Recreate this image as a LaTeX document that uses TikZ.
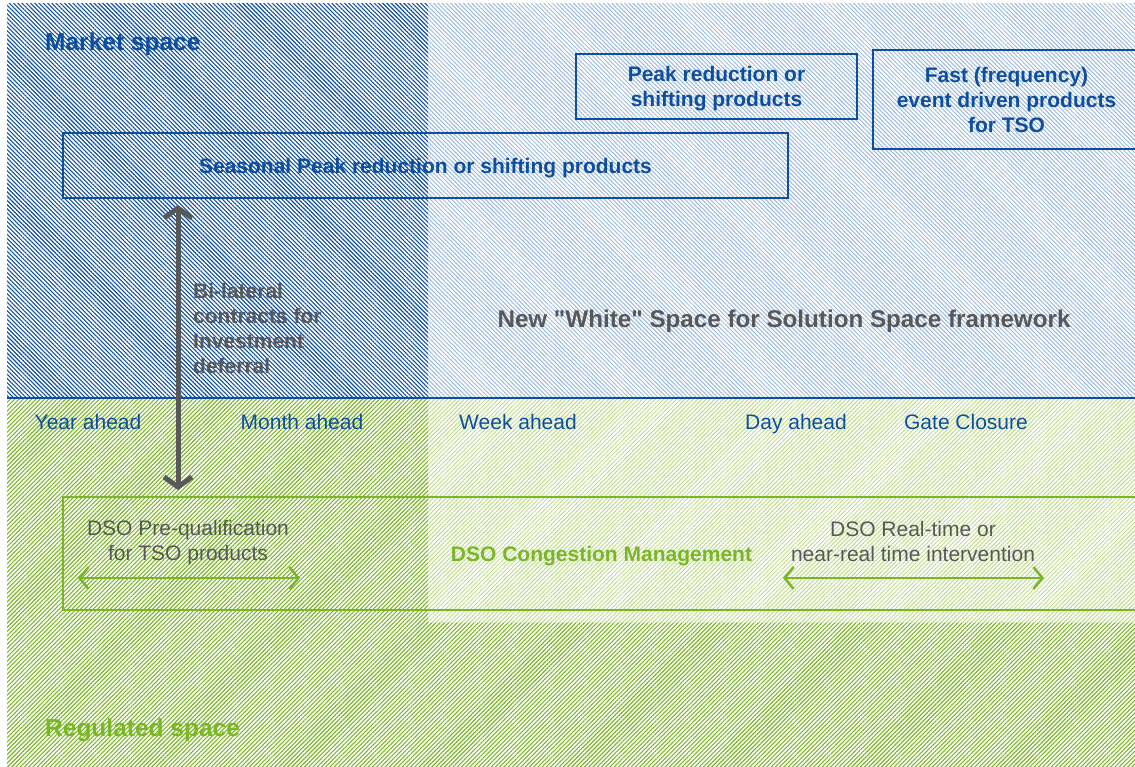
\documentclass[tikz,border=0pt]{standalone}
\usepackage{fontspec}
\setmainfont{Liberation Sans}
\usetikzlibrary{patterns.meta,arrows.meta}
\definecolor{mblue}{RGB}{14,78,158}
\definecolor{lblue}{RGB}{156,184,222}
\definecolor{mgreen}{RGB}{122,182,38}
\definecolor{lgreen}{RGB}{190,220,140}
\definecolor{mgray}{RGB}{88,88,88}

\begin{document}
\begin{tikzpicture}[x=1pt,y=-1pt,
  bluebox/.style={draw=mblue, line width=1.3pt, inner sep=0pt, text depth=0pt, text=mblue, align=center, font=\bfseries\fontsize{21}{25}\selectfont},
  greenbox/.style={draw=mgreen, line width=1.3pt, inner sep=0pt, text=mgreen, font=\bfseries\fontsize{21}{25}\selectfont},
  tline/.style={text=mblue, inner sep=0pt, text height=15pt, text depth=0pt, font=\fontsize{21}{25}\selectfont},
  graytext/.style={text=mgray, inner sep=0pt, align=center, font=\fontsize{21}{25}\selectfont},
  spacelabel/.style={inner sep=0pt, anchor=west, text height=17.5pt, text depth=0pt, font=\bfseries\fontsize{24.5}{28}\selectfont},
  greenarrow/.style={mgreen, line width=2.5pt, {Straight Barb[length=9pt,width=22pt]}-{Straight Barb[length=9pt,width=22pt]}}]
\useasboundingbox (0,0) rectangle (1135,766);
\clip (0,0) rectangle (1135,766);

% Hatched market and regulated spaces
\fill[pattern={Lines[angle=-45,distance=3pt,line width=1.1pt]}, pattern color=mblue] (7,3) rectangle (428,398);
\fill[pattern={Lines[angle=-45,distance=3pt,line width=1pt]}, pattern color=lblue] (428,3) rectangle (1135,398);
\fill[pattern={Lines[angle=45,distance=3pt,line width=1.1pt]}, pattern color=mgreen] (7,398) rectangle (428,766);
\fill[pattern={Lines[angle=45,distance=3pt,line width=1.1pt]}, pattern color=mgreen] (428,622) rectangle (1135,766);
\fill[pattern={Lines[angle=45,distance=3pt,line width=1pt]}, pattern color=lgreen] (428,398) rectangle (1135,622);
\draw[mblue, line width=1.5pt] (7,398) -- (1135,398);

\node[spacelabel, text=mblue] (market) at (45,42) {Market space};
\node[spacelabel, text=mgreen] (regulated) at (45,728) {Regulated space};

% Product boxes
\node[bluebox, minimum width=725, minimum height=65, text height=15pt] (season) at (425.5,165.5) {Seasonal Peak reduction or shifting products};
\node[bluebox, minimum width=281, minimum height=65] (peak) at (716.5,86.5) {Peak reduction or\\shifting products};
\node[bluebox, minimum width=267, minimum height=99] (fast) at (1006.5,99.5) {Fast (frequency)\\event driven products\\for TSO};
\node[greenbox, minimum width=1077, minimum height=113, text height=15pt, text depth=0pt] (dso) at (601.5,553.5) {DSO Congestion Management};

\node[graytext, font=\bfseries\fontsize{21}{25}\selectfont, align=left, anchor=west] (bilat) at (193,328) {Bi-lateral\\contracts for\\Investment\\deferral};
\node[graytext, text height=17.5pt, text depth=0pt, font=\bfseries\fontsize{24.2}{28}\selectfont] (white) at (784,319) {New \textquotedbl White\textquotedbl{} Space for Solution Space framework};

% Time line
\foreach \i/\x/\t in {year/88/Year ahead, month/302/Month ahead, week/518/Week ahead, day/796/Day ahead, gate/966/Gate Closure} {
    \node[tline] (\i) at (\x,422) {\t};
}

\node[graytext] (preq) at (188,542.5) {DSO Pre-qualification\\for TSO products};
\node[graytext] (realtime) at (913,541.5) {DSO Real-time or\\near-real time intervention};

% Arrows
\coordinate (bitop) at (178,205);
\coordinate (bibot) at (178,490);
\draw[mgray, line width=5pt, {Straight Barb[length=10pt,width=28pt]}-{Straight Barb[length=10pt,width=28pt]}] (bitop) -- (bibot);

\coordinate (preqa) at (78,578);
\coordinate (preqb) at (300,578);
\coordinate (rta) at (783,578);
\coordinate (rtb) at (1044,578);
\draw[greenarrow] (preqa) -- (preqb);
\draw[greenarrow] (rta) -- (rtb);

\end{tikzpicture}
\end{document}
